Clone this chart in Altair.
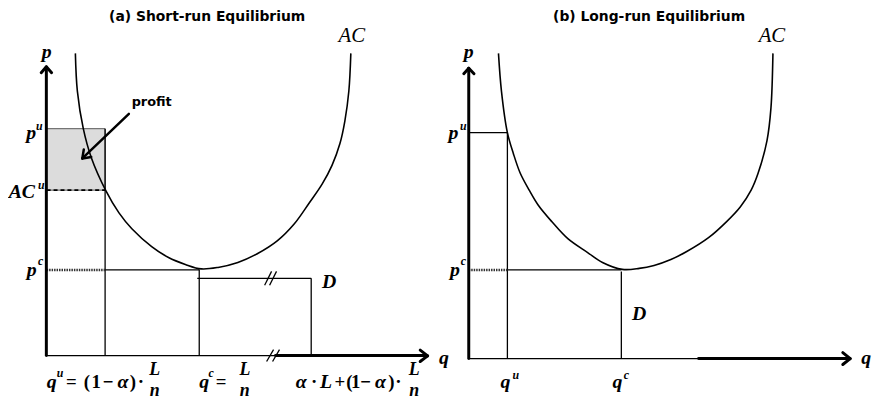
import altair as alt
import pandas as pd

# ---- AC curves (picture coordinates: x to the right, y downward) ----
ac_a_x = [76, 78, 84, 92, 107, 120, 133, 153, 170, 187, 203, 220, 240, 260, 280, 297, 312, 325, 335, 343, 348, 352, 354]
ac_a_y = [52, 90, 128, 157, 191, 213, 229, 247, 258, 265, 269.5, 268, 263, 254, 241, 224, 203, 184, 165, 143, 120, 90, 52]
ac_b_x = [503, 506, 512, 518, 525, 534, 543, 557, 573, 593, 608, 628, 645, 660, 677, 693, 715, 733, 747, 758, 765, 774, 778, 780]
ac_b_y = [52, 90, 132, 153, 173, 190, 205, 222, 239, 253, 263, 270, 269, 266, 260, 252, 238, 222, 207, 190, 173, 140, 107, 52]

# ---- profit rectangle ----
profit_x = [46.7]; profit_x2 = [106]; profit_y = [128]; profit_y2 = [190]

# ---- thin segments ----
thin_x  = [106, 106, 201, 199, 314, 47,  473, 512, 512, 627, 473, 267, 272, 269, 275]
thin_y  = [128, 270.5, 270, 279, 279, 357, 132, 132, 270.5, 272, 360, 286, 286, 363, 363]
thin_x2 = [106, 201, 201, 314, 314, 278, 512, 512, 627, 627, 705, 274, 279, 276, 282]
thin_y2 = [357, 270.5, 357, 279, 357, 357, 132, 360, 270.5, 360, 360, 272, 272, 351, 351]

# ---- thick segments (axes + arrow heads) ----
thick_x  = [46.7, 278, 473, 705, 41.5, 46.7, 424, 431.5, 468, 473, 850.5, 858]
thick_y  = [66, 357, 67, 360, 71.5, 65.5, 351.5, 357.3, 72.5, 67, 354, 360]
thick_x2 = [46.7, 430, 473, 856, 46.7, 52, 431.5, 424, 473, 478.3, 858, 850.5]
thick_y2 = [357, 357, 360, 360, 65.5, 71.5, 357.3, 363, 67, 72.5, 360, 366]

# ---- profit arrow ----
arrow_x  = [130, 83, 83]
arrow_y  = [113, 158, 158]
arrow_x2 = [83, 92, 84.5]
arrow_y2 = [158, 156.5, 149]

# ---- dashed / dotted guides ----
dash_x = [47]; dash_y = [190]; dash_x2 = [106]; dash_y2 = [190]
dot_x = [47, 473]; dot_y = [270.5, 270.5]; dot_x2 = [106, 512]; dot_y2 = [270.5, 270.5]

# ---- texts ----
title_t = ["(a) Short-run Equilibrium", "(b) Long-run Equilibrium"]
title_x = [209, 655]; title_y = [15, 15]
profit_t = ["profit"]; profit_tx = [153]; profit_ty = [101]
ac_t = ["AC", "AC"]; ac_tx = [355, 779]; ac_ty = [35, 35]
mi_t = ["p", "p", "p", "AC", "p", "D", "p", "p", "D", "q", "q",
        "q", "q", "α", "α", "L", "α", "q", "q"]
mi_x = [47, 473, 31.5, 22, 32, 332, 457.5, 459, 645, 448, 874,
        52, 206, 124, 304, 329, 384, 510, 623]
mi_y = [51, 51, 132, 192, 271, 283, 132, 271, 315, 359, 359,
        384, 384, 384, 384, 384, 384, 384, 384]
frac_t = ["L", "n", "L", "n", "L", "n"]
frac_x = [156, 156, 247, 247, 418, 418]
frac_y = [372, 393, 372, 393, 372, 393]
sup_t = ["u", "u", "c", "u", "c", "u", "c", "u", "c"]
sup_x = [39.5, 41.5, 41, 467.5, 467.5, 60.5, 213, 520.5, 632]
sup_y = [125, 185, 262, 125, 262, 375, 375, 377, 377]
op_t = ["=", "(", "1", "−", ")", "·", "=", "·", "+", "(", "1", "−", ")", "·"]
op_x = [72, 87.5, 97, 109, 134, 142, 223, 317, 343, 352.5, 359, 369, 395, 402]
op_y = [384] * 14

xs = alt.Scale(domain=[8, 883], nice=False, zero=False)
ys = alt.Scale(domain=[8, 400], reverse=True, nice=False, zero=False)
X = lambda f="x": alt.X(f + ":Q", scale=xs, axis=None)
Y = lambda f="y": alt.Y(f + ":Q", scale=ys, axis=None)


def seg_df(x, y, x2, y2):
    return pd.DataFrame({"x": x, "y": y, "x2": x2, "y2": y2})


def segs(df, **kw):
    return alt.Chart(df).mark_rule(**kw).encode(x=X(), y=Y(), x2="x2:Q", y2="y2:Q")


def txt(t, x, y, **kw):
    df = pd.DataFrame({"t": t, "x": x, "y": y})
    return alt.Chart(df).mark_text(baseline="middle", align="center", color="black", **kw).encode(
        x=X(), y=Y(), text="t:N")


def curve(xv, yv):
    df = pd.DataFrame({"x": xv, "y": yv, "i": list(range(len(xv)))})
    return alt.Chart(df).mark_line(color="black", strokeWidth=1.6, interpolate="catmull-rom").encode(
        x=X(), y=Y(), order="i:Q")


rect = alt.Chart(seg_df(profit_x, profit_y, profit_x2, profit_y2)).mark_rect(
    fill="#dcdcdc", stroke="#555555", strokeWidth=1).encode(x=X(), y=Y(), x2="x2:Q", y2="y2:Q")

serif = "Liberation Serif"
sans = "DejaVu Sans"

layers = [
    rect,
    segs(seg_df(thin_x, thin_y, thin_x2, thin_y2), color="black", strokeWidth=1.3),
    segs(seg_df(dash_x, dash_y, dash_x2, dash_y2), color="black", strokeWidth=2, strokeDash=[4, 3]),
    segs(seg_df(dot_x, dot_y, dot_x2, dot_y2), color="#333333", strokeWidth=2.5, strokeDash=[1.5, 1]),
    segs(seg_df(thick_x, thick_y, thick_x2, thick_y2), color="black", strokeWidth=3, strokeCap="round"),
    segs(seg_df(arrow_x, arrow_y, arrow_x2, arrow_y2), color="black", strokeWidth=2.5, strokeCap="round"),
    curve(ac_a_x, ac_a_y),
    curve(ac_b_x, ac_b_y),
    txt(title_t, title_x, title_y, font=sans, fontSize=14, fontWeight="bold"),
    txt(profit_t, profit_tx, profit_ty, font=sans, fontSize=13, fontWeight="bold"),
    txt(ac_t, ac_tx, ac_ty, font=serif, fontSize=21, fontStyle="italic"),
    txt(mi_t, mi_x, mi_y, font=serif, fontSize=20, fontStyle="italic", fontWeight="bold"),
    txt(frac_t, frac_x, frac_y, font=serif, fontSize=18, fontStyle="italic", fontWeight="bold"),
    txt(sup_t, sup_x, sup_y, font=serif, fontSize=12, fontStyle="italic", fontWeight="bold"),
    txt(op_t, op_x, op_y, font=serif, fontSize=19, fontWeight="bold"),
]

chart = alt.layer(*layers).properties(
    width=875, height=392, padding=0, autosize=alt.AutoSizeParams(type="none"),
    background="white"
).configure_view(stroke=None)

chart.save("out.html", embed_options={"renderer": "svg", "actions": False})
